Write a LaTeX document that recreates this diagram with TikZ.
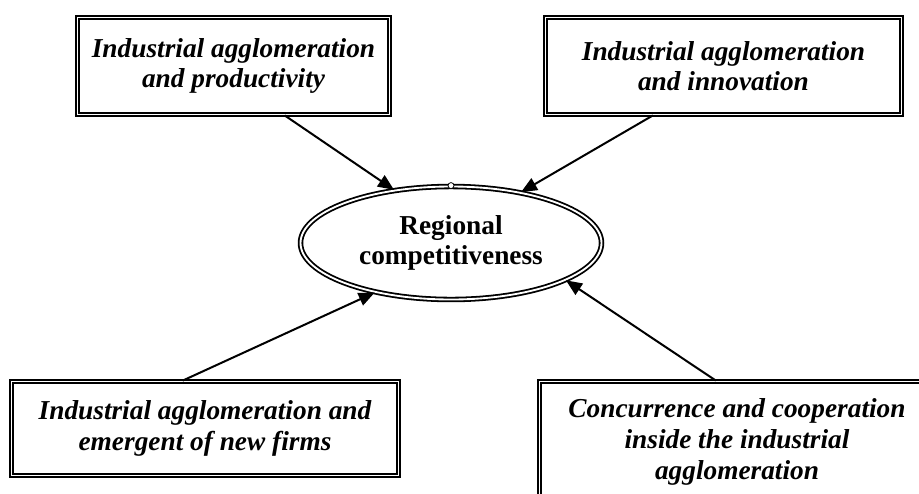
\documentclass[tikz,border=0pt]{standalone}
\usepackage{fontspec}
\setmainfont{Liberation Serif}
\usetikzlibrary{arrows.meta,shapes.geometric}

\begin{document}
\begin{tikzpicture}[x=0.75pt,y=-0.75pt,
    box/.style={draw, double, line width=1.35pt, double distance=1.4pt, align=center, inner sep=0pt,
      font=\bfseries\itshape\fontsize{20.5}{23}\selectfont},
    goal/.style={ellipse, draw, double, line width=1.35pt, double distance=1.4pt, align=center, inner sep=0pt,
      font=\bfseries\fontsize{20.5}{23}\selectfont},
    link/.style={line width=1.5pt, -{Triangle[length=12pt,width=10pt]}}]
      \useasboundingbox (0,0) rectangle (919,493);
      \clip (0,0) rectangle (919,493);
      \node[box, minimum width=312*0.75pt, minimum height=97*0.75pt] (prod) at (233.5,66) {Industrial agglomeration\\and productivity};
      \node[box, minimum width=356*0.75pt, minimum height=97*0.75pt] (innov) at (723.5,66) {Industrial agglomeration\\and innovation};
      \node[box, minimum width=387*0.75pt, minimum height=94*0.75pt] (firms) at (205,428.5) {Industrial agglomeration and\\emergent of new firms};
      \node[box, minimum width=395*0.75pt, minimum height=121*0.75pt] (coop) at (737,442) {Concurrence and cooperation\\inside the industrial\\agglomeration};
      \node[goal, minimum width=301*0.75pt, minimum height=113*0.75pt] (comp) at (451,243) {Regional\\competitiveness};
      \node[circle, draw, fill=white, line width=0.6pt, inner sep=0pt, minimum size=4.5pt] (dot) at (comp.north) {};
      \draw [link] (prod.-44) to (comp.137);
      \draw [link] (innov.215) to (comp.36);
      \draw [link] (firms.115) to (comp.213);
      \draw [link] (coop.109) to (comp.342);
\end{tikzpicture}
\end{document}
